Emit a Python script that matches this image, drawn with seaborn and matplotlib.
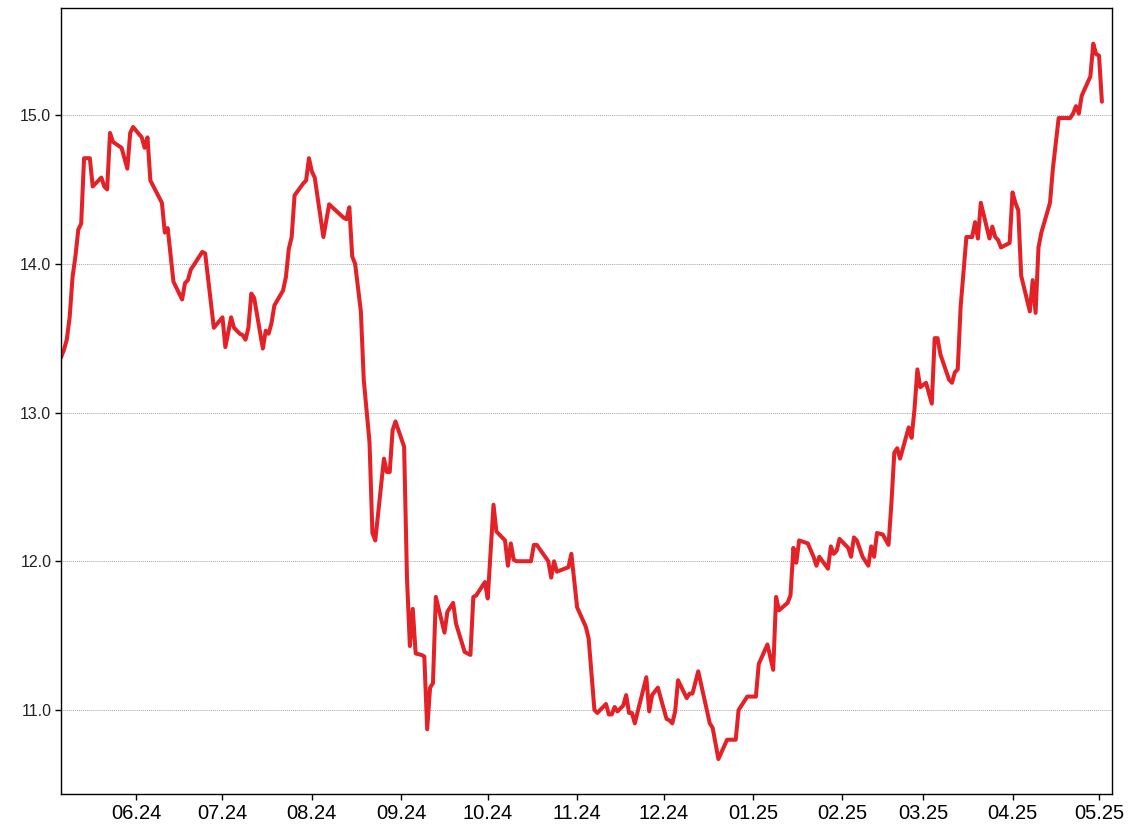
import matplotlib
matplotlib.use('Agg')
import matplotlib.pyplot as plt
import matplotlib.dates as mdates
from matplotlib.ticker import MultipleLocator, FormatStrFormatter
import pandas as pd
import seaborn as sns

# price series (one line per month)
dates = [
    "2024-05-06", "2024-05-07", "2024-05-08", "2024-05-09", "2024-05-10", "2024-05-11", "2024-05-12",
    "2024-05-13", "2024-05-14", "2024-05-16", "2024-05-17", "2024-05-20", "2024-05-21", "2024-05-22",
    "2024-05-23", "2024-05-24", "2024-05-27", "2024-05-29", "2024-05-30", "2024-05-31",
    "2024-06-03", "2024-06-04", "2024-06-05", "2024-06-06", "2024-06-10", "2024-06-11", "2024-06-12",
    "2024-06-14", "2024-06-17", "2024-06-18", "2024-06-19", "2024-06-20", "2024-06-24", "2024-06-25",
    "2024-06-28",
    "2024-07-01", "2024-07-02", "2024-07-04", "2024-07-05", "2024-07-07", "2024-07-08", "2024-07-09",
    "2024-07-10", "2024-07-11", "2024-07-12", "2024-07-15", "2024-07-16", "2024-07-17", "2024-07-18",
    "2024-07-19", "2024-07-22", "2024-07-23", "2024-07-24", "2024-07-25", "2024-07-26", "2024-07-29",
    "2024-07-30", "2024-07-31",
    "2024-08-01", "2024-08-02", "2024-08-05", "2024-08-07", "2024-08-12", "2024-08-13", "2024-08-14",
    "2024-08-15", "2024-08-16", "2024-08-18", "2024-08-19", "2024-08-21", "2024-08-22", "2024-08-23",
    "2024-08-26", "2024-08-27", "2024-08-28", "2024-08-29", "2024-08-30",
    "2024-09-02", "2024-09-03", "2024-09-04", "2024-09-05", "2024-09-06", "2024-09-08", "2024-09-09",
    "2024-09-10", "2024-09-11", "2024-09-12", "2024-09-13", "2024-09-16", "2024-09-17", "2024-09-19",
    "2024-09-20", "2024-09-23", "2024-09-25", "2024-09-26", "2024-09-27", "2024-09-30",
    "2024-10-01", "2024-10-03", "2024-10-04", "2024-10-07", "2024-10-08", "2024-10-09", "2024-10-10",
    "2024-10-11", "2024-10-16", "2024-10-17", "2024-10-18", "2024-10-22", "2024-10-23", "2024-10-24",
    "2024-10-25", "2024-10-29", "2024-10-30",
    "2024-11-01", "2024-11-04", "2024-11-05", "2024-11-07", "2024-11-08", "2024-11-11", "2024-11-12",
    "2024-11-13", "2024-11-14", "2024-11-15", "2024-11-17", "2024-11-18", "2024-11-19", "2024-11-20",
    "2024-11-21", "2024-11-25", "2024-11-26", "2024-11-27", "2024-11-29",
    "2024-12-02", "2024-12-03", "2024-12-04", "2024-12-05", "2024-12-06", "2024-12-09", "2024-12-10",
    "2024-12-11", "2024-12-13", "2024-12-17", "2024-12-18", "2024-12-20", "2024-12-23", "2024-12-26",
    "2024-12-27", "2024-12-30",
    "2025-01-02", "2025-01-03", "2025-01-06", "2025-01-08", "2025-01-09", "2025-01-10", "2025-01-13",
    "2025-01-14", "2025-01-15", "2025-01-16", "2025-01-17", "2025-01-20", "2025-01-22", "2025-01-23",
    "2025-01-24", "2025-01-27", "2025-01-28", "2025-01-29", "2025-01-30", "2025-01-31",
    "2025-02-03", "2025-02-04", "2025-02-05", "2025-02-06", "2025-02-08", "2025-02-10", "2025-02-11",
    "2025-02-12", "2025-02-13", "2025-02-15", "2025-02-17", "2025-02-18", "2025-02-19", "2025-02-20",
    "2025-02-21", "2025-02-24", "2025-02-25", "2025-02-26", "2025-02-27", "2025-02-28",
    "2025-03-02", "2025-03-04", "2025-03-05", "2025-03-06", "2025-03-07", "2025-03-10", "2025-03-11",
    "2025-03-12", "2025-03-13", "2025-03-14", "2025-03-16", "2025-03-18", "2025-03-19", "2025-03-20",
    "2025-03-21", "2025-03-24", "2025-03-25", "2025-03-26", "2025-03-27", "2025-03-28", "2025-03-31",
    "2025-04-01", "2025-04-02", "2025-04-03", "2025-04-04", "2025-04-07", "2025-04-08", "2025-04-09",
    "2025-04-10", "2025-04-11", "2025-04-14", "2025-04-15", "2025-04-17", "2025-04-21", "2025-04-22",
    "2025-04-23", "2025-04-24", "2025-04-25", "2025-04-28", "2025-04-29", "2025-04-30",
    "2025-05-01", "2025-05-02",
]

values = [
    13.37, 13.42, 13.49, 13.64, 13.91, 14.05, 14.23, 14.27, 14.71, 14.71, 14.52, 14.58, 14.52, 14.50,
    14.88, 14.82, 14.78, 14.64, 14.88, 14.92,
    14.85, 14.78, 14.85, 14.56, 14.41, 14.21, 14.24, 13.88, 13.76, 13.87, 13.89, 13.96, 14.08, 14.07,
    13.57,
    13.64, 13.44, 13.64, 13.57, 13.53, 13.52, 13.49, 13.57, 13.80, 13.77, 13.43, 13.55, 13.53, 13.60,
    13.72, 13.82, 13.91, 14.10, 14.18, 14.46, 14.54, 14.56, 14.71,
    14.62, 14.58, 14.18, 14.40, 14.31, 14.30, 14.38, 14.05, 14.00, 13.68, 13.22, 12.80, 12.19, 12.14,
    12.69, 12.60, 12.60, 12.88, 12.94,
    12.77, 11.88, 11.43, 11.68, 11.38, 11.37, 11.36, 10.87, 11.15, 11.18, 11.76, 11.52, 11.66, 11.72,
    11.58, 11.39, 11.37, 11.76, 11.77, 11.86,
    11.75, 12.38, 12.20, 12.14, 11.97, 12.12, 12.01, 12.00, 12.00, 12.11, 12.11, 12.00, 11.89, 12.00,
    11.93, 11.96, 12.05,
    11.69, 11.56, 11.48, 11.00, 10.98, 11.04, 10.97, 10.97, 11.02, 10.99, 11.03, 11.10, 10.98, 10.98,
    10.91, 11.22, 10.99, 11.10, 11.15,
    10.94, 10.93, 10.91, 10.99, 11.20, 11.08, 11.11, 11.11, 11.26, 10.91, 10.88, 10.67, 10.80, 10.80,
    11.00, 11.09,
    11.09, 11.31, 11.44, 11.27, 11.76, 11.67, 11.72, 11.77, 12.09, 11.99, 12.14, 12.12, 12.03, 11.97,
    12.03, 11.95, 12.10, 12.05, 12.07, 12.15,
    12.09, 12.03, 12.16, 12.14, 12.03, 11.97, 12.10, 12.03, 12.19, 12.18, 12.11, 12.39, 12.73, 12.76,
    12.69, 12.90, 12.83, 13.02, 13.29, 13.17,
    13.20, 13.06, 13.50, 13.50, 13.39, 13.22, 13.20, 13.27, 13.29, 13.71, 14.18, 14.18, 14.28, 14.17,
    14.41, 14.17, 14.25, 14.18, 14.16, 14.11, 14.14,
    14.48, 14.41, 14.36, 13.92, 13.68, 13.89, 13.67, 14.11, 14.21, 14.41, 14.64, 14.98, 14.98, 15.01,
    15.06, 15.01, 15.13, 15.26, 15.48, 15.41,
    15.40, 15.09,
]

x_start = "2024-05-06"
x_end = "2025-05-05 12:00"
y_range = (10.435, 15.72)

df = pd.DataFrame({'date': pd.to_datetime(dates), 'value': values})

sns.set_style('white')
plt.rcParams['font.family'] = ['Liberation Sans', 'DejaVu Sans']

fig = plt.figure(figsize=(11.28, 8.36), dpi=100)
ax = fig.add_axes([61 / 1128, 42 / 836, 1051 / 1128, 786 / 836])

sns.lineplot(data=df, x='date', y='value', ax=ax, color='#E42127', linewidth=2.9)

ax.set_xlim(pd.Timestamp(x_start), pd.Timestamp(x_end))
ax.set_ylim(*y_range)
ax.set_xlabel('')
ax.set_ylabel('')

ax.xaxis.set_major_locator(mdates.MonthLocator())
ax.xaxis.set_major_formatter(mdates.DateFormatter('%m.%y'))
ax.yaxis.set_major_locator(MultipleLocator(1.0))
ax.yaxis.set_major_formatter(FormatStrFormatter('%.1f'))

ax.grid(False)
ax.yaxis.grid(True, color='#a6a6a6', linestyle=(0, (1, 1)), linewidth=0.7)
ax.set_axisbelow(True)

for spine in ax.spines.values():
    spine.set_visible(True)
    spine.set_color('black')
    spine.set_linewidth(1.0)

ax.tick_params(axis='x', direction='out', length=4, width=1, colors='black',
               labelsize=14.5, pad=3, bottom=True)
ax.tick_params(axis='y', direction='out', length=4, width=1, colors='black',
               labelsize=11.5, pad=3, left=True, labelcolor='#222222')

fig.savefig('out.png', dpi=100)
plt.close(fig)
